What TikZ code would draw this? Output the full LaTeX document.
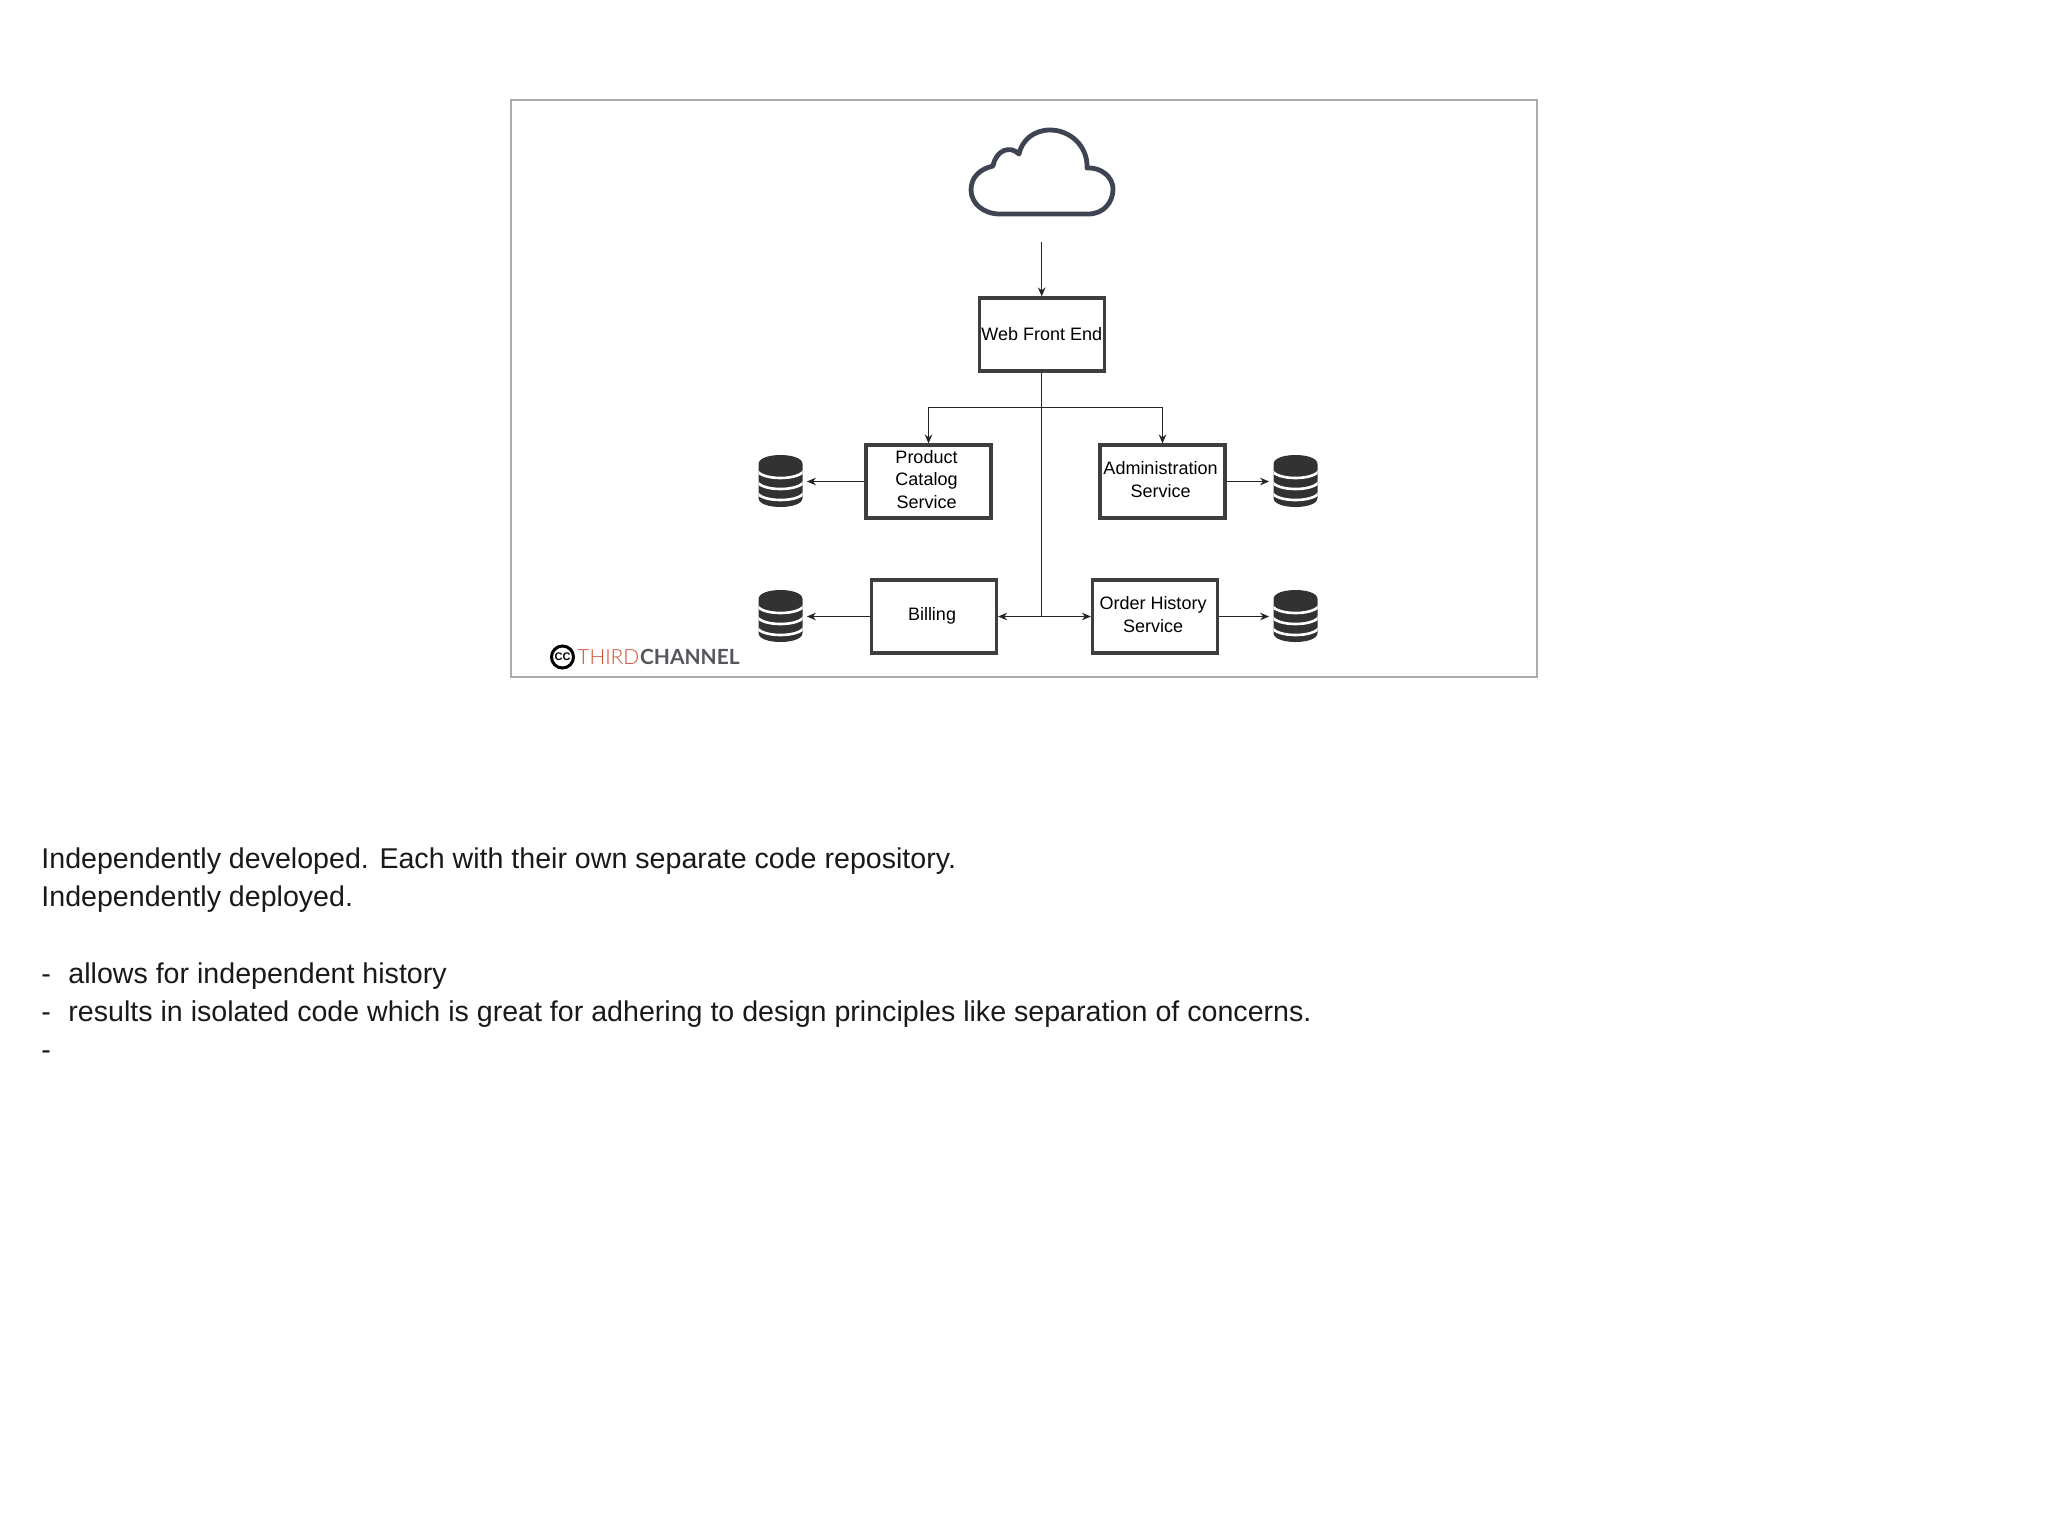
\documentclass[tikz,border=0pt]{standalone}
\usepackage{fontspec}
\setmainfont{Liberation Sans}
\newfontfamily\logofont{Lato}
\newfontfamily\logolight{Lato Light}
\usepackage{xcolor}
\usetikzlibrary{positioning, arrows.meta}
\definecolor{cloudcolor}{RGB}{62,68,82}
\definecolor{boxcolor}{RGB}{62,62,62}
\definecolor{dbcolor}{RGB}{50,50,50}
\definecolor{framecolor}{RGB}{170,170,170}
\definecolor{thirdcolor}{RGB}{205,78,52}
\definecolor{channelcolor}{RGB}{84,86,92}
\newcommand{\boxlabel}[1]{\raisebox{-0.4pt}{\begin{tabular}{@{}c@{}}#1\end{tabular}}\kern2pt}

\tikzset{
    servicebox/.style={rectangle, draw=boxcolor, line width=1.6pt, minimum width=62.5pt, minimum height=36.5pt, inner sep=0pt, font=\fontsize{9}{11.2}\selectfont},
    link/.style={draw=black!85, line width=0.6pt},
    linkarrow/.style={link, -{Stealth[length=4.5pt, width=3.8pt]}},
    notetext/.style={anchor=base west, inner sep=0pt, text=black!90, font=\fontsize{14.3}{17}\selectfont},
    dbicon/.style={rectangle, minimum width=22pt, minimum height=26pt, inner sep=0pt, outer sep=0pt,
        path picture={
            \begin{scope}[shift={(path picture bounding box.center)}]
                \fill[dbcolor] (-22,-17) .. controls (-22,-29) and (22,-29) .. (22,-17) -- (22,17) .. controls (22,29) and (-22,29) .. (-22,17) -- cycle;
                \foreach \d in {-12,-1,10}
                    \draw[white, line width=1.3pt] (-24,\d) .. controls (-22,\d+12) and (22,\d+12) .. (24,\d);
            \end{scope}
        }},
}

\begin{document}
\begin{tikzpicture}[x=0.5pt, y=-0.5pt]
    \useasboundingbox (0,0) rectangle (2048,1527);

    % Frame
    \node[rectangle, draw=framecolor, line width=0.55pt, minimum width=513pt, minimum height=288.5pt, inner sep=0pt] (frame) at (1024,388.5) {};

    % Cloud
    \draw[draw=cloudcolor, line width=2.4pt, line join=round]
        (1000,214) -- (1088,214)
        .. controls (1104,214) and (1113,202) .. (1113,189)
        .. controls (1113,177) and (1101,167) .. (1087,168)
        .. controls (1088,146) and (1070,130) .. (1050,130)
        .. controls (1034,130) and (1022,140) .. (1019,154)
        .. controls (1010,145) and (996,150) .. (993,166)
        .. controls (980,169) and (971,177) .. (971,190)
        .. controls (971,203) and (983,214) .. (1000,214) -- cycle;
    \coordinate (cloudout) at (1041.7,242);

    % Services
    \node[servicebox] (web) at (1041.7,334.5) {\raisebox{-0.4pt}{Web Front End}};
    \node[servicebox] (catalog) at (928.5,481.5) {\boxlabel{Product\\Catalog\\Service}};
    \node[servicebox] (admin) at (1162.5,481.5) {\boxlabel{Administration\\Service}};
    \node[servicebox] (billing) at (934,616.5) {\boxlabel{Billing}};
    \node[servicebox] (order) at (1155,616.5) {\boxlabel{Order History\\Service}};

    % Databases
    \node[dbicon] (dbcatalog) at (780.5,481) {};
    \node[dbicon] (dbadmin) at (1295.5,481) {};
    \node[dbicon] (dbbilling) at (780.5,616) {};
    \node[dbicon] (dborder) at (1295.5,616) {};

    % Connectors
    \coordinate (splitup) at (web.south |- 0,407.5);
    \coordinate (splitdown) at (web.south |- billing.east);
    \draw[linkarrow] (cloudout) -- (web.north);
    \draw[link] (web.south) -- (splitdown);
    \draw[linkarrow] (splitup) -| (catalog.north);
    \draw[linkarrow] (splitup) -| (admin.north);
    \draw[linkarrow] (splitdown) -- (billing.east);
    \draw[linkarrow] (splitdown) -- (order.west);
    \draw[linkarrow, shorten >=2.2pt] (catalog.west) -- (dbcatalog.east |- catalog.west);
    \draw[linkarrow, shorten >=2.2pt] (admin.east) -- (dbadmin.west |- admin.east);
    \draw[linkarrow, shorten >=2.2pt] (billing.west) -- (dbbilling.east |- billing.west);
    \draw[linkarrow, shorten >=2.2pt] (order.east) -- (dborder.west |- order.east);

    % Logo
    \node[circle, draw=black, line width=1.5pt, minimum size=11pt, inner sep=0pt, font=\fontsize{5.5}{5.5}\selectfont\bfseries] (logomark) at (562.5,657) {CC};
    \node[anchor=base west, inner sep=0pt, font=\logolight\fontsize{10.45}{12}\selectfont, text=thirdcolor] (logothird) at (577,664) {THIRD};
    \node[anchor=base west, inner sep=0pt, font=\logofont\bfseries\fontsize{10.45}{12}\selectfont, text=channelcolor] (logochannel) at (logothird.base east) {CHANNEL};

    % Notes
    \node[notetext] (noteone) at (41,868) {Independently developed. Each with their own separate code repository.};
    \node[notetext] (notetwo) at (41,906.5) {Independently deployed.};
    \node[notetext] (dashone) at (41,983.5) {-};
    \node[notetext] (itemone) at (68,983.5) {allows for independent history};
    \node[notetext] (dashtwo) at (41,1021.5) {-};
    \node[notetext] (itemtwo) at (68,1021.5) {results in isolated code which is great for adhering to design principles like separation of concerns.};
    \node[notetext] (dashthree) at (41,1059) {-};
\end{tikzpicture}
\end{document}
